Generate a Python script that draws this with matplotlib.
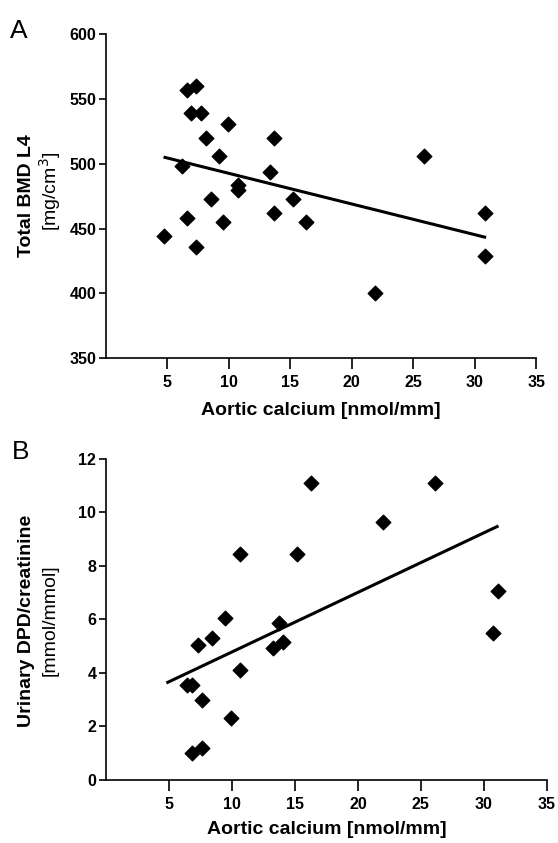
import numpy as np
import matplotlib
matplotlib.use("Agg")
import matplotlib.pyplot as plt

plt.rcParams['font.family'] = ['Liberation Sans', 'DejaVu Sans']

# panel A: aortic calcium vs total BMD L4
ca_a = [4.7, 6.6, 7.3, 6.9, 7.7, 8.1, 9.9, 9.2, 6.2, 10.7, 10.7, 8.5,
        6.6, 9.5, 7.3, 13.7, 13.3, 13.7, 15.2, 16.3, 25.9, 30.8, 30.8, 21.9]
bmd = [444, 557, 560, 539, 539, 520, 531, 506, 498, 484, 480, 473,
       458, 455, 436, 520, 494, 462, 473, 455, 506, 462, 429, 400]
fit_a_x = [4.8, 30.8]
fit_a_y = [505, 443.5]

# panel B: aortic calcium vs urinary DPD/creatinine
ca_b = [16.3, 10.65, 15.2, 9.45, 13.7, 8.4, 7.3, 13.25, 14.05, 10.65,
        6.4, 6.85, 7.6, 9.9, 6.85, 7.6, 22.0, 26.15, 31.1, 30.7]
dpd = [11.09, 8.44, 8.44, 6.05, 5.85, 5.3, 5.05, 4.95, 5.15, 4.1,
       3.55, 3.55, 3.0, 2.3, 1.0, 1.2, 9.65, 11.09, 7.05, 5.5]
fit_b_x = [4.9, 31.05]
fit_b_y = [3.65, 9.47]

xticks = [5, 10, 15, 20, 25, 30, 35]

fig = plt.figure(figsize=(5.58, 8.43), dpi=100)
ax1 = fig.add_axes([0.19, 0.575, 0.771, 0.3843])
ax2 = fig.add_axes([0.19, 0.0747, 0.79, 0.381])

def style(ax, ylim, yticks, labelpad):
    ax.set_xlim(0, 35)
    ax.set_ylim(*ylim)
    ax.set_xticks(xticks)
    ax.set_yticks(yticks)
    for s in ['top', 'right']:
        ax.spines[s].set_visible(False)
    for s in ['left', 'bottom']:
        ax.spines[s].set_linewidth(1.2)
    ax.tick_params(axis='x', direction='out', length=8, width=1.2, labelsize=11.5, pad=4)
    ax.tick_params(axis='y', direction='out', length=5, width=1.2, labelsize=11.5, pad=2)
    for lab in ax.get_xticklabels() + ax.get_yticklabels():
        lab.set_fontweight('bold')
    ax.set_xlabel('Aortic calcium [nmol/mm]', fontsize=14, fontweight='bold', labelpad=labelpad)

ax1.scatter(ca_a, bmd, marker='D', s=55, color='black', zorder=3)
ax1.plot(fit_a_x, fit_a_y, color='black', lw=2.2)
style(ax1, (350, 600), [350, 400, 450, 500, 550, 600], 9)

ax2.scatter(ca_b, dpd, marker='D', s=55, color='black', zorder=3)
ax2.plot(fit_b_x, fit_b_y, color='black', lw=2.2)
style(ax2, (0, 12), [0, 2, 4, 6, 8, 10, 12], 7)

# two-line y labels: bold title, lighter unit line
fig.text(0.047, 0.768, 'Total BMD L4', rotation=90, fontsize=14, fontweight='bold',
         ha='center', va='center')
fig.text(0.090, 0.773, '[mg/cm$^3$]', rotation=90, fontsize=14,
         ha='center', va='center')
fig.text(0.047, 0.264, 'Urinary DPD/creatinine', rotation=90, fontsize=14, fontweight='bold',
         ha='center', va='center')
fig.text(0.090, 0.264, '[mmol/mmol]', rotation=90, fontsize=14,
         ha='center', va='center')

fig.text(0.018, 0.978, 'A', fontsize=19, ha='left', va='top')
fig.text(0.022, 0.478, 'B', fontsize=19, ha='left', va='top')

fig.savefig('out.png', dpi=100)
